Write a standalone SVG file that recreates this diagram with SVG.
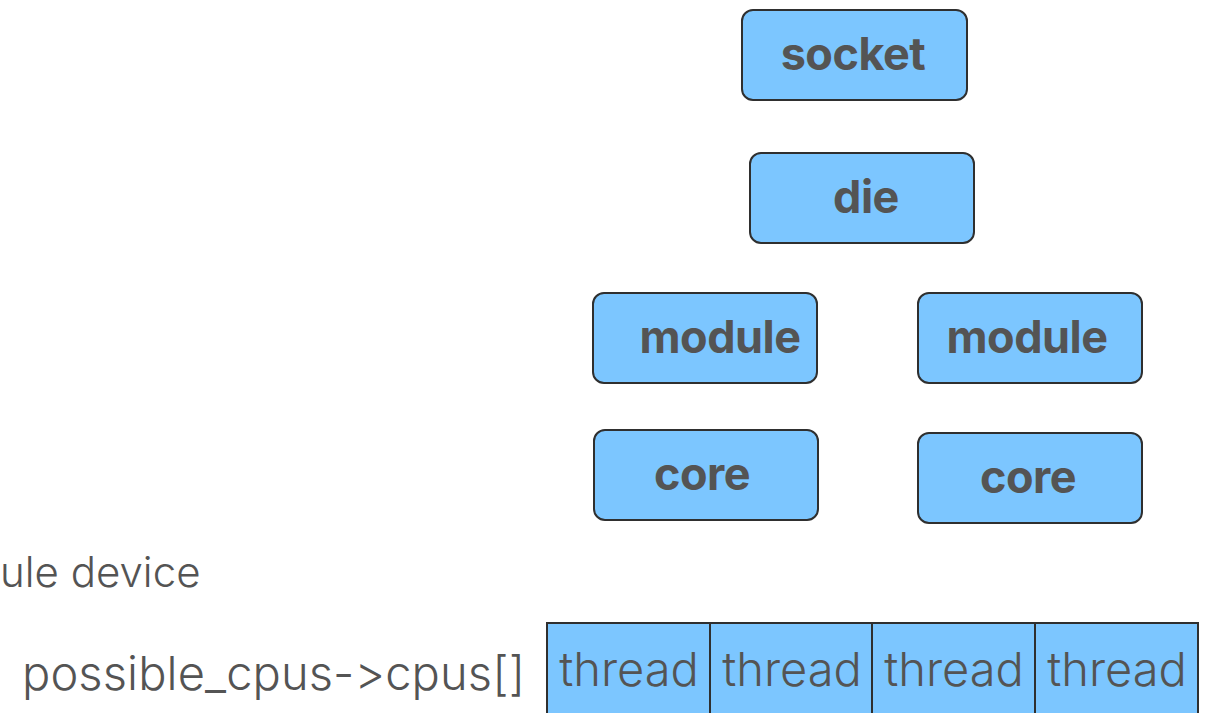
<svg xmlns="http://www.w3.org/2000/svg" width="1212" height="713" viewBox="0 0 1212 713">
  <style>
    .box { fill: #7cc6ff; stroke: #2f2f2f; stroke-width: 2; }
    .cell { fill: #7cc6ff; stroke: #2f2f2f; stroke-width: 2; }
    text { font-family: Inter, "Liberation Sans", sans-serif; fill: #545454; font-feature-settings: "calt" 0, "liga" 0; font-variant-ligatures: none; }
    .lbl { font-weight: 700; font-size: 45px; text-anchor: middle; letter-spacing: -0.5px; }
    .thin { font-weight: 300; font-size: 42px; }
    .code { font-weight: 300; font-size: 47px; }
    .tcell { font-weight: 300; font-size: 47px; text-anchor: middle; }
  </style>
  <rect width="1212" height="713" fill="#ffffff"/>

  <g id="socket">
    <rect class="box" x="742" y="10" width="225" height="90" rx="11"/>
    <text class="lbl" x="853" y="70">socket</text>
  </g>
  <g id="die">
    <rect class="box" x="750" y="153" width="224" height="90" rx="11"/>
    <text class="lbl" x="866" y="213">die</text>
  </g>
  <g id="module-0">
    <rect class="box" x="593" y="293" width="224" height="90" rx="11"/>
    <text class="lbl" x="720" y="353">module</text>
  </g>
  <g id="module-1">
    <rect class="box" x="918" y="293" width="224" height="90" rx="11"/>
    <text class="lbl" x="1027" y="353">module</text>
  </g>
  <g id="core-0">
    <rect class="box" x="594" y="430" width="224" height="90" rx="11"/>
    <text class="lbl" x="702" y="490">core</text>
  </g>
  <g id="core-1">
    <rect class="box" x="918" y="433" width="224" height="90" rx="11"/>
    <text class="lbl" x="1028" y="493">core</text>
  </g>

  <g id="device-label">
    <text class="thin" x="0" y="587">ule device</text>
  </g>
  <g id="cpus-label">
    <text class="code" x="22" y="690" textLength="503" lengthAdjust="spacing">possible_cpus-&gt;cpus[]</text>
  </g>

  <g id="cpus-array">
    <g id="thread-0">
      <rect class="cell" x="547" y="623" width="163" height="100"/>
      <text class="tcell" x="629" y="686">thread</text>
    </g>
    <g id="thread-1">
      <rect class="cell" x="710" y="623" width="162" height="100"/>
      <text class="tcell" x="792" y="686">thread</text>
    </g>
    <g id="thread-2">
      <rect class="cell" x="872" y="623" width="163" height="100"/>
      <text class="tcell" x="954" y="686">thread</text>
    </g>
    <g id="thread-3">
      <rect class="cell" x="1035" y="623" width="163" height="100"/>
      <text class="tcell" x="1117" y="686">thread</text>
    </g>
  </g>

  <g id="connectors"/>
</svg>
